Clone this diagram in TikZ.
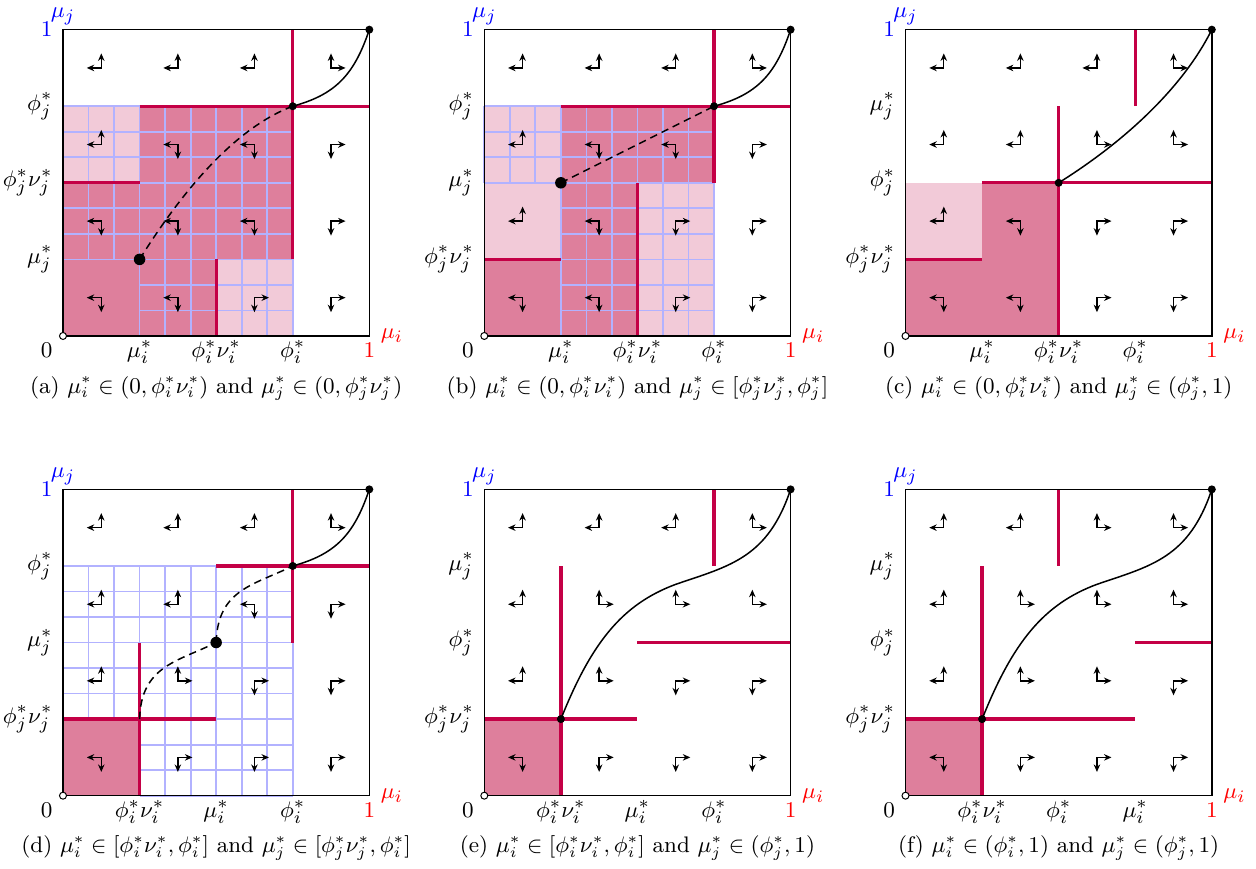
\documentclass[tikz,border=0pt]{standalone}
\usetikzlibrary{arrows.meta}
\definecolor{redl}{RGB}{196,0,70}
\definecolor{pinkd}{RGB}{222,127,156}
\definecolor{pinkl}{RGB}{242,202,216}
\definecolor{gridb}{RGB}{178,178,255}
\tikzset{
  frame/.style={draw=black, line width=0.6pt},
  redline/.style={draw=redl, line width=1.3pt},
  gridline/.style={draw=gridb, line width=0.7pt},
  flowarr/.style={line width=0.55pt, {Stealth[length=3pt,width=2.6pt]}-{Stealth[length=3pt,width=2.6pt]}},
  curve/.style={line width=0.6pt},
  dashcurve/.style={line width=0.6pt, dash pattern=on 3pt off 2pt},
  xlab/.style={anchor=base, inner sep=0pt, font=\fontsize{9.5}{11}\selectfont},
  ylab/.style={anchor=east, inner sep=0pt, xshift=-4pt, font=\fontsize{9.5}{11}\selectfont},
  caplab/.style={anchor=base, inner sep=0pt},
  smalldot/.style={fill=black, circle, inner sep=0pt, minimum size=3.2pt},
  bigdot/.style={fill=black, circle, inner sep=0pt, minimum size=4.6pt},
}
\newcommand\flows[1]{\foreach \c/\r/\sx/\sy in {#1}{%
  \draw[flowarr] (\c+0.5+\sx*0.19,\r+0.5) -- (\c+0.5,\r+0.5) -- (\c+0.5,\r+0.5+\sy*0.19);}}
% grid region given in thirds of a cell
\newcommand\gridreg[4]{%
  \foreach \k in {#1,...,#3} {\draw[gridline] (\k/3,#2/3) -- (\k/3,#4/3);}
  \foreach \k in {#2,...,#4} {\draw[gridline] (#1/3,\k/3) -- (#3/3,\k/3);}}
\newcommand\axes[8]{%
  \draw[frame] (0,0) rectangle (4,4);
  \node[xlab] (#1x1) at (1,-0.287) {#2};
  \node[xlab] (#1x2) at (2,-0.287) {#3};
  \node[xlab] (#1x3) at (3,-0.287) {#4};
  \node[ylab] (#1y1) at (0,1) {#5};
  \node[ylab] (#1y2) at (0,2) {#6};
  \node[ylab] (#1y3) at (0,3) {#7};
  \node[ylab, text=blue] (#1yone) at (0,4) {$1$};
  \node[anchor=base, inner sep=0pt, yshift=4.8pt, text=blue, font=\fontsize{9.5}{11}\selectfont] (#1muj) at (0,4) {$\mu_j$};
  \node[anchor=west, inner sep=0pt, xshift=4.4pt, text=red, font=\fontsize{9.5}{11}\selectfont] (#1mui) at (4,0) {$\mu_i$};
  \node[xlab, text=red] (#1xone) at (4,-0.287) {$1$};
  \node[xlab, anchor=base east, xshift=-4pt] (#1zero) at (0,-0.287) {$0$};
  \node[caplab] (#1cap) at (2,-0.745) {#8};
}
\newcommand\origin{\draw[fill=white, line width=0.4pt] (0,0) circle (1.4pt);}
\begin{document}
\begin{tikzpicture}[x=30.63pt, y=30.63pt, font=\fontsize{9}{11}\selectfont]
\useasboundingbox (0,0) rectangle (16.402,11.348);
% ---------------- (a)
\begin{scope}[shift={(0.8227,6.9605)}]
  \fill[pinkl] (0,2) rectangle (1,3);
  \fill[pinkl] (2,0) rectangle (3,1);
  \fill[pinkd] (0,0) -- (2,0) -- (2,1) -- (3,1) -- (3,3) -- (1,3) -- (1,2) -- (0,2) -- cycle;
  \gridreg{3}{0}{9}{9}
  \gridreg{0}{3}{3}{9}
  \flows{0/3/-1/1, 1/3/-1/1, 2/3/-1/1, 3/3/1/1,
         0/2/-1/1, 1/2/-1/-1, 2/2/-1/-1, 3/2/1/-1,
         0/1/-1/-1, 1/1/-1/-1, 2/1/-1/-1, 3/1/1/-1,
         0/0/-1/-1, 1/0/-1/-1, 2/0/1/-1, 3/0/1/-1}
  \draw[redline] (3,1) -- (3,4);
  \draw[redline] (1,3) -- (4,3);
  \draw[redline] (0,2) -- (1,2);
  \draw[redline] (2,0) -- (2,1);
  \axes{a}{$\mu_i^*$}{$\phi_i^*\nu_i^*$}{$\phi_i^*$}{$\mu_j^*$}{$\phi_j^*\nu_j^*$}{$\phi_j^*$}
    {(a) $\mu_i^*\in(0,\phi_i^*\nu_i^*)$ and $\mu_j^*\in(0,\phi_j^*\nu_j^*)$}
  \node[bigdot] (ap1) at (1,1) {};
  \node[smalldot] (ap2) at (3,3) {};
  \node[smalldot] (ap3) at (4,4) {};
  \draw[dashcurve] (ap1.center) .. controls (1.5,1.8) and (2.2,2.7) .. (ap2.center);
  \draw[curve] (ap2.center) .. controls (3.55,3.15) and (3.8,3.4) .. (ap3.center);
  \origin
\end{scope}
% ---------------- (b)
\begin{scope}[shift={(6.3245,6.9605)}]
  \fill[pinkl] (0,1) rectangle (1,3);
  \fill[pinkl] (2,0) rectangle (3,2);
  \fill[pinkd] (0,0) -- (2,0) -- (2,2) -- (3,2) -- (3,3) -- (1,3) -- (1,1) -- (0,1) -- cycle;
  \gridreg{3}{0}{9}{9}
  \gridreg{0}{6}{3}{9}
  \flows{0/3/-1/1, 1/3/-1/1, 2/3/-1/1, 3/3/1/1,
         0/2/-1/1, 1/2/-1/-1, 2/2/-1/-1, 3/2/1/-1,
         0/1/-1/1, 1/1/-1/-1, 2/1/1/-1, 3/1/1/-1,
         0/0/-1/-1, 1/0/-1/-1, 2/0/1/-1, 3/0/1/-1}
  \draw[redline] (3,2) -- (3,4);
  \draw[redline] (1,3) -- (4,3);
  \draw[redline] (0,1) -- (1,1);
  \draw[redline] (2,0) -- (2,2);
  \axes{b}{$\mu_i^*$}{$\phi_i^*\nu_i^*$}{$\phi_i^*$}{$\phi_j^*\nu_j^*$}{$\mu_j^*$}{$\phi_j^*$}
    {(b) $\mu_i^*\in(0,\phi_i^*\nu_i^*)$ and $\mu_j^*\in[\phi_j^*\nu_j^*,\phi_j^*]$}
  \node[bigdot] (bp1) at (1,2) {};
  \node[smalldot] (bp2) at (3,3) {};
  \node[smalldot] (bp3) at (4,4) {};
  \draw[dashcurve] (bp1.center) -- (bp2.center);
  \draw[curve] (bp2.center) .. controls (3.55,3.15) and (3.8,3.4) .. (bp3.center);
  \origin
\end{scope}
% ---------------- (c)
\begin{scope}[shift={(11.825,6.9605)}]
  \fill[pinkl] (0,1) rectangle (1,2);
  \fill[pinkd] (0,0) -- (2,0) -- (2,2) -- (1,2) -- (1,1) -- (0,1) -- cycle;
  \flows{0/3/-1/1, 1/3/-1/1, 2/3/-1/1, 3/3/1/1,
         0/2/-1/1, 1/2/-1/1, 2/2/1/1, 3/2/1/1,
         0/1/-1/1, 1/1/-1/-1, 2/1/1/-1, 3/1/1/-1,
         0/0/-1/-1, 1/0/-1/-1, 2/0/1/-1, 3/0/1/-1}
  \draw[redline] (3,3) -- (3,4);
  \draw[redline] (2,0) -- (2,3);
  \draw[redline] (1,2) -- (4,2);
  \draw[redline] (0,1) -- (1,1);
  \axes{c}{$\mu_i^*$}{$\phi_i^*\nu_i^*$}{$\phi_i^*$}{$\phi_j^*\nu_j^*$}{$\phi_j^*$}{$\mu_j^*$}
    {(c) $\mu_i^*\in(0,\phi_i^*\nu_i^*)$ and $\mu_j^*\in(\phi_j^*,1)$}
  \node[smalldot] (cp1) at (2,2) {};
  \node[smalldot] (cp2) at (4,4) {};
  \draw[curve] (cp1.center) .. controls (2.8,2.5) and (3.6,3.2) .. (cp2.center);
  \origin
\end{scope}
% ---------------- (d)
\begin{scope}[shift={(0.8227,0.9572)}]
  \fill[pinkd] (0,0) rectangle (1,1);
  \gridreg{3}{0}{9}{9}
  \gridreg{0}{3}{3}{9}
  \flows{0/3/-1/1, 1/3/-1/1, 2/3/-1/1, 3/3/1/1,
         0/2/-1/1, 1/2/-1/1, 2/2/-1/-1, 3/2/1/-1,
         0/1/-1/1, 1/1/1/1, 2/1/1/-1, 3/1/1/-1,
         0/0/-1/-1, 1/0/1/-1, 2/0/1/-1, 3/0/1/-1}
  \draw[redline] (3,2) -- (3,4);
  \draw[redline] (2,3) -- (4,3);
  \draw[redline] (1,0) -- (1,2);
  \draw[redline] (0,1) -- (2,1);
  \axes{d}{$\phi_i^*\nu_i^*$}{$\mu_i^*$}{$\phi_i^*$}{$\phi_j^*\nu_j^*$}{$\mu_j^*$}{$\phi_j^*$}
    {(d) $\mu_i^*\in[\phi_i^*\nu_i^*,\phi_i^*]$ and $\mu_j^*\in[\phi_j^*\nu_j^*,\phi_i^*]$}
  \coordinate (dp0) at (1,1);
  \node[bigdot] (dp1) at (2,2) {};
  \node[smalldot] (dp2) at (3,3) {};
  \node[smalldot] (dp3) at (4,4) {};
  \draw[dashcurve] (dp0) .. controls (1.02,1.7) and (1.5,1.75) .. (dp1.center);
  \draw[dashcurve] (dp1.center) .. controls (2.02,2.7) and (2.5,2.75) .. (dp2.center);
  \draw[curve] (dp2.center) .. controls (3.55,3.15) and (3.8,3.4) .. (dp3.center);
  \origin
\end{scope}
% ---------------- (e)
\begin{scope}[shift={(6.3245,0.9572)}]
  \fill[pinkd] (0,0) rectangle (1,1);
  \flows{0/3/-1/1, 1/3/-1/1, 2/3/-1/1, 3/3/1/1,
         0/2/-1/1, 1/2/1/1, 2/2/1/1, 3/2/1/1,
         0/1/-1/1, 1/1/1/1, 2/1/1/-1, 3/1/1/-1,
         0/0/-1/-1, 1/0/1/-1, 2/0/1/-1, 3/0/1/-1}
  \draw[redline] (3,3) -- (3,4);
  \draw[redline] (1,0) -- (1,3);
  \draw[redline] (2,2) -- (4,2);
  \draw[redline] (0,1) -- (2,1);
  \axes{e}{$\phi_i^*\nu_i^*$}{$\mu_i^*$}{$\phi_i^*$}{$\phi_j^*\nu_j^*$}{$\phi_j^*$}{$\mu_j^*$}
    {(e) $\mu_i^*\in[\phi_i^*\nu_i^*,\phi_i^*]$ and $\mu_j^*\in(\phi_j^*,1)$}
  \node[smalldot] (ep1) at (1,1) {};
  \node[smalldot] (ep2) at (4,4) {};
  \draw[curve] (ep1.center) .. controls (1.4,2) and (1.8,2.5) .. (2.5,2.76)
               .. controls (3.2,3.0) and (3.7,3.1) .. (ep2.center);
  \origin
\end{scope}
% ---------------- (f)
\begin{scope}[shift={(11.825,0.9572)}]
  \fill[pinkd] (0,0) rectangle (1,1);
  \flows{0/3/-1/1, 1/3/-1/1, 2/3/1/1, 3/3/1/1,
         0/2/-1/1, 1/2/1/1, 2/2/1/1, 3/2/1/1,
         0/1/-1/1, 1/1/1/1, 2/1/1/1, 3/1/1/-1,
         0/0/-1/-1, 1/0/1/-1, 2/0/1/-1, 3/0/1/-1}
  \draw[redline] (2,3) -- (2,4);
  \draw[redline] (1,0) -- (1,3);
  \draw[redline] (3,2) -- (4,2);
  \draw[redline] (0,1) -- (3,1);
  \axes{f}{$\phi_i^*\nu_i^*$}{$\phi_i^*$}{$\mu_i^*$}{$\phi_j^*\nu_j^*$}{$\phi_j^*$}{$\mu_j^*$}
    {(f) $\mu_i^*\in(\phi_i^*,1)$ and $\mu_j^*\in(\phi_j^*,1)$}
  \node[smalldot] (fp1) at (1,1) {};
  \node[smalldot] (fp2) at (4,4) {};
  \draw[curve] (fp1.center) .. controls (1.4,2) and (1.8,2.5) .. (2.5,2.76)
               .. controls (3.2,3.0) and (3.7,3.1) .. (fp2.center);
  \origin
\end{scope}
\end{tikzpicture}
\end{document}
